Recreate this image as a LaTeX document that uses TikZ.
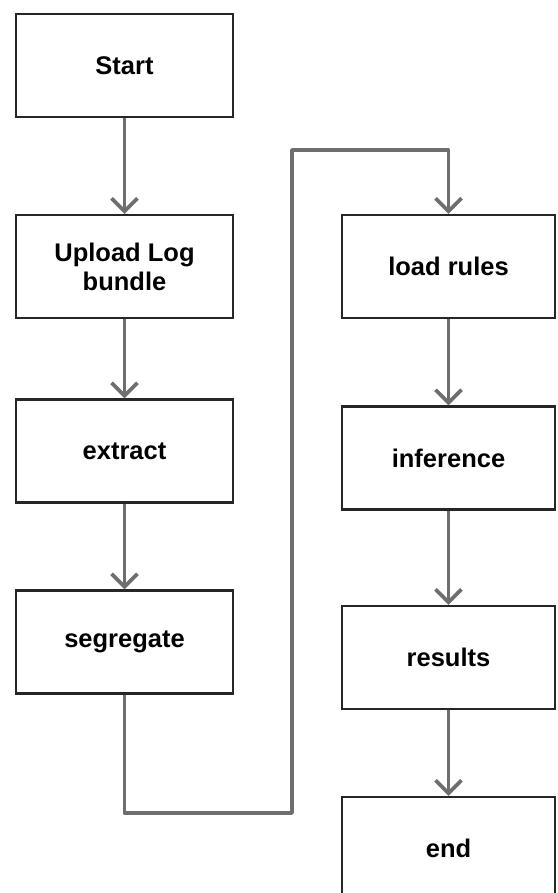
\documentclass[tikz,border=0pt]{standalone}
\usepackage{fontspec}
\setmainfont{Liberation Sans}
\usetikzlibrary{arrows.meta}
\definecolor{boxline}{HTML}{262626}
\definecolor{conn}{HTML}{6E6E6E}
\begin{document}
\begin{tikzpicture}[x=1pt,y=-1pt,
  flowbox/.style={draw=boxline,line width=2.4pt,fill=white,rectangle,inner sep=0pt,
    align=center,font=\fontsize{25.5}{29}\selectfont\bfseries},
  lbox/.style={flowbox,minimum width=216.5pt,minimum height=103pt},
  rbox/.style={flowbox,minimum width=213pt,minimum height=103pt},
  conn/.style={draw=conn,line width=3.6pt,-{Straight Barb[length=13pt,width=26pt,line width=3.6pt]}}]
\useasboundingbox (0,0) rectangle (557,893);
\node[lbox] (start) at (124.5,65.5) {Start};
\node[lbox] (upload) at (124.5,266.5) {Upload Log\\bundle};
\node[lbox] (extract) at (124.5,451) {extract};
\node[lbox] (segregate) at (124.5,642) {segregate};
\node[rbox] (load) at (448.5,266.5) {load rules};
\node[rbox] (inference) at (448.5,458) {inference};
\node[rbox] (results) at (448.5,657.5) {results};
\node[rbox] (end) at (448.5,848.5) {end};
\coordinate (c1) at (124.5,813);
\coordinate (c2) at (292,813);
\coordinate (c3) at (292,150);
\coordinate (c4) at (448.5,150);
\draw[conn] (start) -- (upload);
\draw[conn] (upload) -- (extract);
\draw[conn] (extract) -- (segregate);
\draw[conn,line join=round] (segregate.south) -- (c1) -- (c2) -- (c3) -- (c4) -- (load.north);
\draw[conn] (load) -- (inference);
\draw[conn] (inference) -- (results);
\draw[conn] (results) -- (end);
\end{tikzpicture}
\end{document}
